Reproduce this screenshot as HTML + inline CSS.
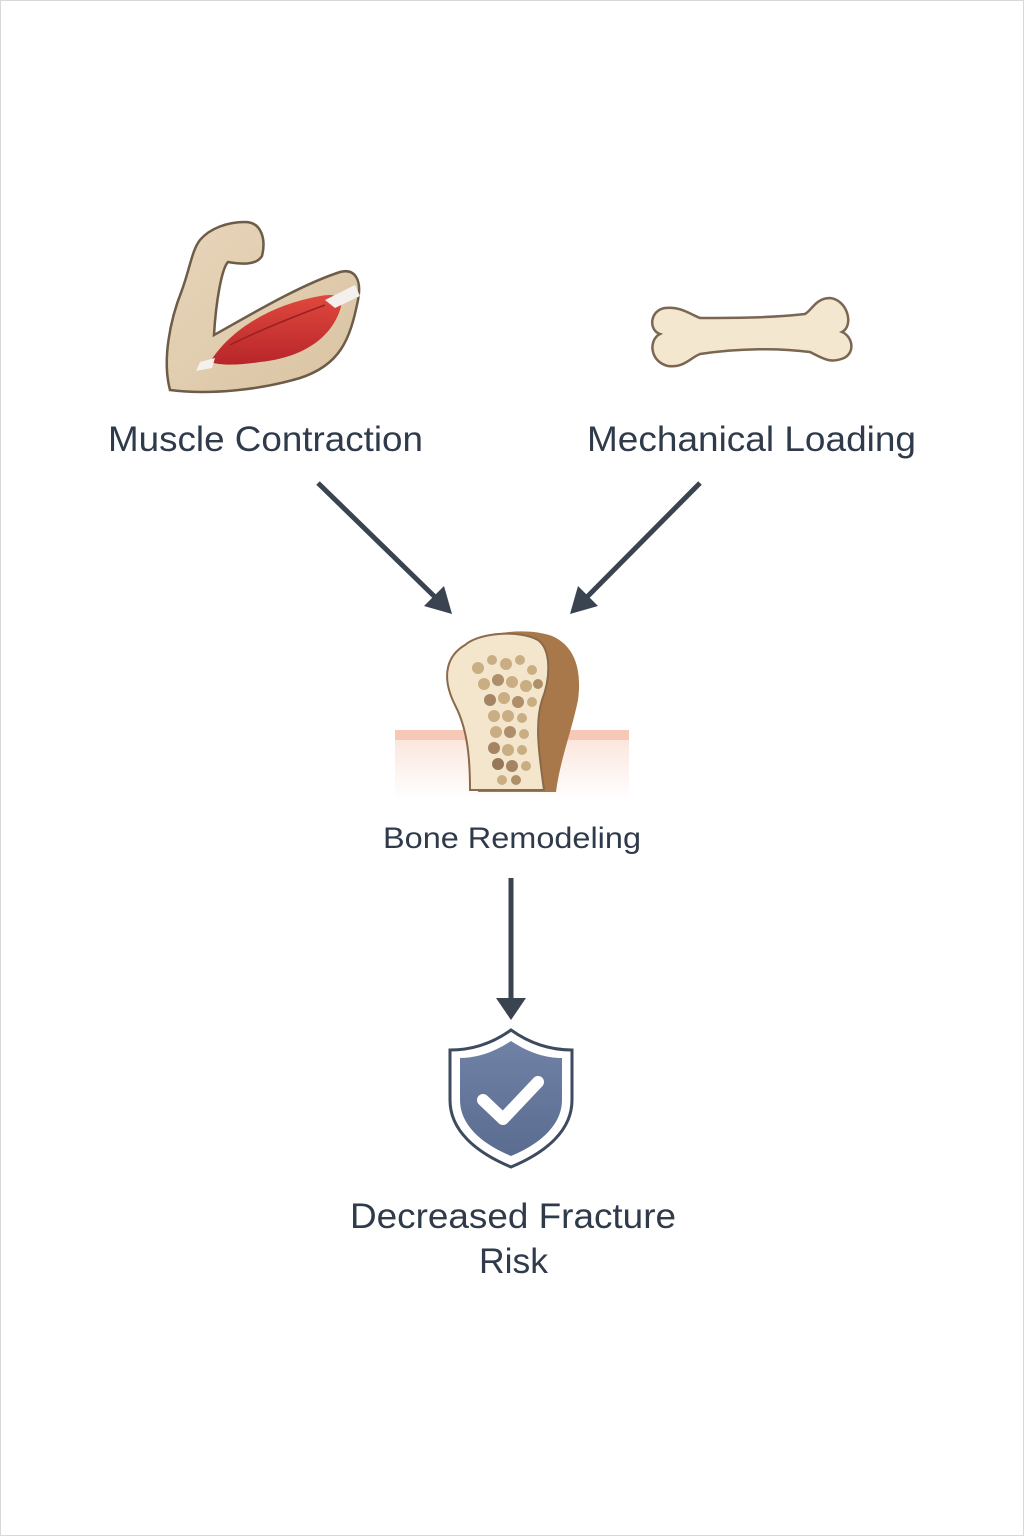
<!DOCTYPE html>
<html><head><meta charset="utf-8"><style>
html,body{margin:0;padding:0;background:#fff;}
svg{display:block}
text{font-family:"Liberation Sans","DejaVu Sans",sans-serif;fill:#2f3a4a}
</style></head><body>
<svg width="1024" height="1536" viewBox="0 0 1024 1536" xmlns="http://www.w3.org/2000/svg">
<defs>
<linearGradient id="skin" x1="0" y1="0" x2="1" y2="1"><stop offset="0" stop-color="#e8d6bb"/><stop offset="1" stop-color="#d9c3a2"/></linearGradient>
<linearGradient id="mus" x1="0" y1="0" x2="0" y2="1"><stop offset="0" stop-color="#e0483c"/><stop offset="1" stop-color="#b8262a"/></linearGradient>
<linearGradient id="fade" x1="0" y1="0" x2="0" y2="1"><stop offset="0" stop-color="#fbe7de"/><stop offset="1" stop-color="#fff"/></linearGradient>
<linearGradient id="shf" x1="0" y1="0" x2="0" y2="1"><stop offset="0" stop-color="#6f82a6"/><stop offset="1" stop-color="#5a6c90"/></linearGradient>
</defs>
<rect x="0.5" y="0.5" width="1023" height="1535" fill="#fff" stroke="#d8d8d8"/>

<!-- Arm -->
<path d="M170 390 C162 360 170 320 182 290 C190 268 192 250 200 240 C210 228 228 222 245 222 C262 222 266 240 262 256 C256 266 240 264 228 262 C222 268 216 300 214 335 C250 315 300 285 340 272 C355 268 362 280 358 300 C350 340 340 365 300 378 C260 390 210 395 170 390 Z" fill="url(#skin)" stroke="#6d5c48" stroke-width="2.5"/>
<path d="M210 362 C230 330 270 305 320 296 C335 293 345 296 340 310 C330 340 300 358 260 362 C240 365 222 366 210 362 Z" fill="url(#mus)"/>
<path d="M200 362 L215 358 L212 368 L196 371 Z" fill="#f3f0ee"/>
<path d="M325 300 L355 285 L360 296 L335 308 Z" fill="#f3f0ee"/>
<path d="M230 345 C260 330 290 318 325 305" stroke="#9a1f22" stroke-width="1.5" fill="none"/>

<!-- Bone -->
<path d="M665 308 C650 310 648 330 660 334 C648 340 650 362 668 366 C684 368 690 358 700 354 C740 348 780 348 810 352 C822 358 830 364 844 358 C856 352 852 336 842 332 C854 326 848 300 830 298 C816 298 812 310 805 314 C770 318 730 318 700 318 C690 314 680 306 665 308 Z" fill="#f4e7cf" stroke="#7a6652" stroke-width="2.5"/>

<text x="108" y="451" font-size="35" textLength="315" lengthAdjust="spacingAndGlyphs">Muscle Contraction</text>
<text x="587" y="451" font-size="35" textLength="329" lengthAdjust="spacingAndGlyphs">Mechanical Loading</text>

<!-- Arrows -->
<g stroke="#3a4350" stroke-width="5" fill="#3a4350">
<line x1="318" y1="483" x2="437" y2="599"/>
<line x1="700" y1="483" x2="585" y2="599"/>
<line x1="511" y1="878" x2="511" y2="1000"/>
</g>
<g fill="#3a4350">
<polygon points="452,614 424,606 444,586"/>
<polygon points="570,614 578,586 598,606"/>
<polygon points="511,1020 496,998 526,998"/>
</g>

<!-- Bone remodeling -->
<rect x="395" y="730" width="234" height="10" fill="#f6c9b6"/>
<rect x="395" y="740" width="234" height="60" fill="url(#fade)"/>
<path d="M470 645 C490 630 530 628 552 636 C575 646 582 670 578 700 C572 730 560 760 556 792 L478 792 C476 760 470 730 456 700 C442 670 450 655 470 645 Z" fill="#a8784a"/>
<path d="M465 645 C480 632 520 630 538 640 C552 650 550 680 542 700 C534 725 540 760 544 790 L470 790 C470 760 468 730 455 705 C440 675 448 655 465 645 Z" fill="#f3e6cc" stroke="#8a6a4a" stroke-width="2"/>
<g fill="#c6a97c" opacity="0.9">
<circle cx="478" cy="668" r="6"/><circle cx="492" cy="660" r="5"/><circle cx="506" cy="664" r="6"/><circle cx="520" cy="660" r="5"/><circle cx="532" cy="670" r="5"/>
<circle cx="484" cy="684" r="6"/><circle cx="498" cy="680" r="6" fill="#a88560"/><circle cx="512" cy="682" r="6"/><circle cx="526" cy="686" r="6"/><circle cx="538" cy="684" r="5" fill="#a88560"/>
<circle cx="490" cy="700" r="6" fill="#9c7a58"/><circle cx="504" cy="698" r="6"/><circle cx="518" cy="702" r="6" fill="#a88560"/><circle cx="532" cy="702" r="5"/>
<circle cx="494" cy="716" r="6"/><circle cx="508" cy="716" r="6"/><circle cx="522" cy="718" r="5"/>
<circle cx="496" cy="732" r="6"/><circle cx="510" cy="732" r="6" fill="#a88560"/><circle cx="524" cy="734" r="5"/>
<circle cx="494" cy="748" r="6" fill="#9c7a58"/><circle cx="508" cy="750" r="6"/><circle cx="522" cy="750" r="5"/>
<circle cx="498" cy="764" r="6" fill="#8e6c4c"/><circle cx="512" cy="766" r="6" fill="#9c7a58"/><circle cx="526" cy="766" r="5"/>
<circle cx="502" cy="780" r="5"/><circle cx="516" cy="780" r="5" fill="#a88560"/>
</g>
<text x="383" y="848" font-size="30" textLength="258" lengthAdjust="spacingAndGlyphs">Bone Remodeling</text>

<!-- Shield -->
<path d="M511 1030 C490 1045 470 1050 450 1050 L450 1100 C450 1130 475 1152 511 1167 C547 1152 572 1130 572 1100 L572 1050 C552 1050 532 1045 511 1030 Z" fill="#fff" stroke="#3e4a5e" stroke-width="3"/>
<path d="M511 1041 C493 1053 476 1058 460 1058 L460 1100 C460 1125 482 1144 511 1156 C540 1144 562 1125 562 1100 L562 1058 C546 1058 529 1053 511 1041 Z" fill="url(#shf)"/>
<polyline points="483,1100 503,1119 538,1082" fill="none" stroke="#fff" stroke-width="12" stroke-linecap="round" stroke-linejoin="round"/>

<text x="350" y="1228" font-size="35" textLength="326" lengthAdjust="spacingAndGlyphs">Decreased Fracture</text>
<text x="479" y="1273" font-size="35" textLength="69" lengthAdjust="spacingAndGlyphs">Risk</text>
</svg>
</body></html>
